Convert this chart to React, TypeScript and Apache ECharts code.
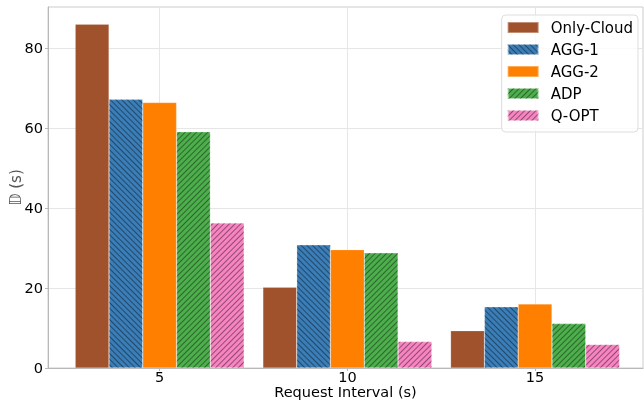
import React, { useEffect, useRef } from "react";
import * as echarts from "echarts";

const categories = ["5", "10", "15"];
const positions = [0, 1, 2];
const seriesNames = ["Only-Cloud", "AGG-1", "AGG-2", "ADP", "Q-OPT"];
const onlyCloud = [86.0, 20.2, 9.3];
const agg1 = [67.2, 30.8, 15.3];
const agg2 = [66.4, 29.6, 16.0];
const adp = [59.1, 28.8, 11.1];
const qopt = [36.3, 6.6, 5.9];
const yTicks = [0, 20, 40, 60, 80];

const colors = ["#a0522d", "#3a7db7", "#ff8000", "#4caf4c", "#f783c0"];

export default function App() {
  const ref = useRef<HTMLDivElement>(null);
  useEffect(() => {
    if (!ref.current) return;
    const chart = echarts.init(ref.current, null, { renderer: "svg" });
    const hatch = (rot: number) => ({
      symbol: "rect",
      symbolSize: 1,
      dashArrayX: [[1, 0]],
      dashArrayY: [1, 3],
      rotation: rot,
      color: "rgba(0,0,0,0.42)",
    });
    const decals: any[] = [null, hatch(Math.PI / 4), null, hatch(-Math.PI / 4), hatch(-Math.PI / 4)];
    const values = [onlyCloud, agg1, agg2, adp, qopt];
    const font = "DejaVu Sans";
    chart.setOption({
      animation: false,
      textStyle: { fontFamily: font },
      grid: {
        left: 48,
        right: 1,
        top: 7,
        bottom: 32,
        outerBoundsMode: "none",
        containLabel: false,
        show: true,
        borderColor: "#cccccc",
        borderWidth: 1,
        backgroundColor: "transparent",
      },
      legend: {
        orient: "vertical",
        right: 6,
        top: 15,
        padding: [5, 5, 9, 5],
        itemWidth: 31,
        itemHeight: 11,
        itemGap: 7,
        icon: "rect",
        backgroundColor: "rgba(255,255,255,0.8)",
        borderColor: "#dddddd",
        borderWidth: 1,
        borderRadius: 4,
        textStyle: { fontFamily: font, fontSize: 15, color: "#000", padding: [0, 0, 0, 7] },
        data: seriesNames,
      },
      xAxis: {
        type: "value",
        min: -0.595,
        max: 2.575,
        name: "Request Interval (s)",
        nameLocation: "middle",
        nameGap: 16,
        nameMoveOverlap: false,
        nameTextStyle: {
          fontFamily: font,
          fontSize: 14.5,
          lineHeight: 15,
          color: "#000",
          verticalAlign: "top",
        },
        axisLine: { show: true, onZero: false, lineStyle: { color: "#b8b8b8" } },
        axisTick: { show: true, customValues: positions, length: 3, lineStyle: { color: "#b8b8b8" } },
        axisLabel: {
          customValues: positions,
          formatter: (v: number) => categories[Math.round(v)] ?? "",
          fontFamily: font,
          fontSize: 14.5,
          lineHeight: 15,
          color: "#000",
          margin: 1,
        },
        splitLine: { show: true, lineStyle: { color: "#e6e6e6" } },
      },
      yAxis: {
        type: "value",
        min: 0,
        max: 90.3,
        name: "𝔻 (s)",
        nameLocation: "middle",
        nameGap: 25,
        nameMoveOverlap: false,
        nameRotate: 90,
        nameTextStyle: { fontFamily: font, fontSize: 15, color: "#555", verticalAlign: "bottom" },
        axisLine: { show: true, onZero: false, lineStyle: { color: "#b8b8b8" } },
        axisTick: { show: true, customValues: yTicks, length: 3, lineStyle: { color: "#b8b8b8" } },
        axisLabel: {
          customValues: yTicks,
          fontFamily: font,
          fontSize: 14.5,
          color: "#000",
          margin: 5,
        },
        splitLine: { show: true, lineStyle: { color: "#e6e6e6" } },
      },
      series: seriesNames.map((name, i) => ({
        name,
        type: "bar",
        barWidth: "18%",
        barGap: "0%",
        itemStyle: {
          color: colors[i],
          borderColor: "rgba(255,255,255,0.35)",
          borderWidth: 0.5,
          decal: decals[i] || undefined,
        },
        data: values[i].map((v, j) => [positions[j], v]),
      })),
    });
    return () => chart.dispose();
  }, []);
  return (
    <div
      ref={ref}
      style={{ position: "fixed", left: 0, top: 0, width: 644, height: 400 }}
    />
  );
}
